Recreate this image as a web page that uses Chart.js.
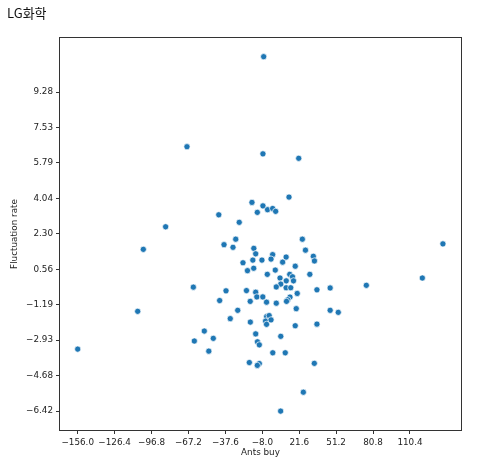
<!DOCTYPE html>
<html>
<head>
<meta charset="utf-8">
<script src="https://cdn.jsdelivr.net/npm/chart.js@4"></script>
<style>
  body { margin: 0; background: #fff; }
  canvas { display: block; }
</style>
</head>
<body>
<canvas id="grafica" width="479" height="467"></canvas>
<script>
const chartTitle = "LG화학";

const antsBuy = [
  -6.9, -68.4, -7.5, 21.2, 13.4, -16.3, -7.5, -12.0, -3.8, 0.3,
  2.7, -42.9, -26.5, -85.5, -29.3, 24.1, -103.4, -38.7, -31.5, -14.8,
  -13.3, 0.3, 11.1, 26.6, 32.9, 33.8, -23.5, -15.6, -8.3, -1.0,
  8.3, 18.4, -19.9, -14.9, -4.0, 2.4, 6.2, 14.0, 16.2, 30.1,
  11.2, 17.0, 6.8, 3.2, 11.1, 14.8, 35.8, 46.4, 75.4, 120.3,
  136.8, -63.3, -37.1, -20.7, -13.3, -12.4, -7.6, -4.6, 3.2, -42.2,
  -17.7, 20.0, 14.2, 12.4, 11.4, 19.2, 46.4, 52.9, -107.9, -27.7,
  -33.7, -17.6, -4.5, -2.5, -5.4, -1.0, -4.6, 18.4, 35.8, -54.5,
  -47.3, -62.5, -50.9, -13.3, -11.9, -10.4, 6.8, 0.4, 10.4, -156.0,
  -18.4, -10.4, -12.0, 33.7, 24.9, 6.7
];

const fluctuationRate = [
  11.02, 6.59, 6.24, 6.02, 4.11, 3.85, 3.68, 3.36, 3.49, 3.55,
  3.41, 3.24, 2.87, 2.65, 2.04, 2.04, 1.54, 1.77, 1.64, 1.59,
  1.32, 1.28, 1.16, 1.50, 1.20, 0.97, 0.88, 1.01, 1.01, 1.06,
  0.91, 0.71, 0.49, 0.61, 0.31, 0.52, 0.13, 0.31, 0.19, 0.31,
  -0.01, -0.01, -0.17, -0.31, -0.35, -0.35, -0.45, -0.36, -0.23, 0.13,
  1.81, -0.32, -0.50, -0.49, -0.57, -0.80, -0.80, -1.06, -1.11, -0.98,
  -1.02, -0.63, -0.81, -0.94, -1.02, -1.38, -1.46, -1.56, -1.51, -1.46,
  -1.87, -2.04, -1.77, -1.72, -1.99, -1.93, -2.15, -2.22, -2.14, -2.48,
  -2.84, -2.97, -3.47, -2.62, -3.01, -3.16, -2.74, -3.55, -3.55, -3.37,
  -4.03, -4.08, -4.17, -4.07, -5.49, -6.42
];

const xTicks = [-156.0, -126.4, -96.8, -67.2, -37.6, -8.0, 21.6, 51.2, 80.8, 110.4];
const yTicks = [-6.42, -4.68, -2.93, -1.19, 0.56, 2.30, 4.04, 5.79, 7.53, 9.28];

const puntos = antsBuy.map((x, i) => ({ x: x, y: fluctuationRate[i] }));

function etiqueta(v, dec) {
  return v.toFixed(dec).replace("-", "\u2212");
}

const fuente = { family: "'DejaVu Sans', sans-serif", size: 8.8 };

// marco de los ejes y titulo arriba a la izquierda
const marcoPlugin = {
  id: "marco",
  afterDraw(chart) {
    const { ctx, chartArea } = chart;
    ctx.save();
    ctx.strokeStyle = "#333";
    ctx.lineWidth = 1;
    ctx.strokeRect(chartArea.left - 0.5, chartArea.top - 0.5,
      chartArea.right - chartArea.left + 1, chartArea.bottom - chartArea.top + 1);
    ctx.fillStyle = "#111";
    ctx.font = "13px 'Noto Sans CJK KR', sans-serif";
    ctx.textBaseline = "alphabetic";
    ctx.fillText(chartTitle, 7, 18);
    ctx.restore();
  }
};

const ctx = document.getElementById("grafica").getContext("2d");
new Chart(ctx, {
  type: "scatter",
  data: {
    datasets: [{
      data: puntos,
      backgroundColor: "#1f77b4",
      borderColor: "#ffffff",
      borderWidth: 0.7,
      pointRadius: 3.1,
      pointHoverRadius: 3.1,
    }],
  },
  options: {
    responsive: false,
    animation: false,
    layout: { padding: { top: 38, right: 18, left: 0, bottom: 0 } },
    plugins: {
      legend: { display: false },
      tooltip: { enabled: false },
    },
    scales: {
      x: {
        type: "linear",
        min: -170.2,
        max: 151.3,
        afterBuildTicks: (scale) => { scale.ticks = xTicks.map(v => ({ value: v })); },
        afterFit: (scale) => { scale.height = 37; },
        border: { display: false },
        grid: { drawOnChartArea: false, drawTicks: true, tickLength: 4, color: "#333", tickColor: "#333" },
        ticks: {
          padding: 3,
          maxRotation: 0,
          autoSkip: false,
          color: "#222",
          font: fuente,
          callback: (v) => etiqueta(v, 1),
        },
        title: { display: true, text: "Ants buy", color: "#222", font: fuente, padding: { top: 0, bottom: 9 } },
      },
      y: {
        type: "linear",
        min: -7.35,
        max: 11.94,
        afterBuildTicks: (scale) => { scale.ticks = yTicks.map(v => ({ value: v })); },
        afterFit: (scale) => { scale.width = 60; },
        border: { display: false },
        grid: { drawOnChartArea: false, drawTicks: true, tickLength: 4, color: "#333", tickColor: "#333" },
        ticks: {
          padding: 3,
          autoSkip: false,
          color: "#222",
          font: fuente,
          callback: (v) => etiqueta(v, 2),
        },
        title: { display: true, text: "Fluctuation rate", color: "#222", font: fuente, padding: { top: 9, bottom: 0 } },
      },
    },
  },
  plugins: [marcoPlugin],
});
</script>
</body>
</html>
